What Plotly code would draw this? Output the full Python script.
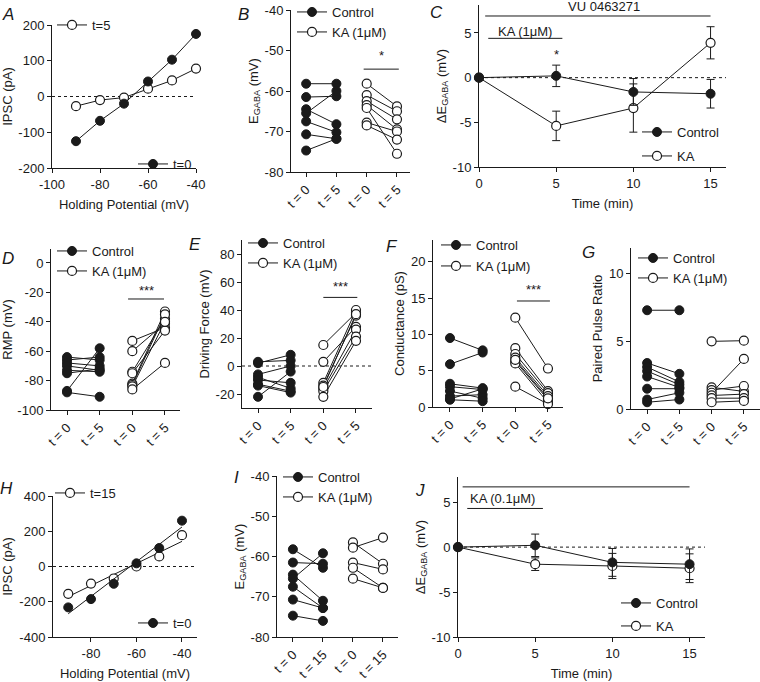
import plotly.graph_objects as go
import numpy as np

W, H = 760, 682
FONT = "Liberation Sans, Arial, Helvetica, sans-serif"
INK = "#1a1a1a"

# ---------------- data ----------------
A_volt = [-90, -80, -70, -60, -50, -40]
A_t0 = [-125, -68, -20, 42, 103, 175]
A_t5 = [-27, -10, -3, 22, 45, 78]

B_ctrl_t0 = [-58.2, -61.5, -64.5, -65.5, -67.5, -70.7, -74.7]
B_ctrl_t5 = [-58.2, -61.3, -68.2, -60.0, -70.2, -71.8, -71.8]
B_ka_t0 = [-58.2, -61.0, -62.5, -63.5, -64.2, -67.8, -68.5]
B_ka_t5 = [-63.8, -65.0, -67.0, -69.5, -75.5, -70.0, -72.0]

C_time = [0, 5, 10, 15]
C_ctrl = [0, 0.2, -1.6, -1.8]
C_ctrl_err = [0, 1.2, 1.5, 1.6]
C_ka = [0, -5.4, -3.4, 3.9]
C_ka_err = [0, 1.65, 2.7, 1.8]

D_ctrl_t0 = [-64, -66, -68, -70, -73, -75, -87, -88]
D_ctrl_t5 = [-66, -64, -70, -73, -74, -72, -58, -91]
D_ka_t0 = [-53, -60, -74, -75, -82, -83, -84, -86]
D_ka_t5 = [-44, -41, -38, -46, -33, -35, -40, -68]

E_ctrl_t0 = [2, 3, -6, -8, -10, -14, -22, -13]
E_ctrl_t5 = [8, 4, 0, -16, -12, -19, -4, -18]
E_ka_t0 = [15, 3, -12, -14, -16, -18, -22, -15]
E_ka_t5 = [38, 28, 40, 36, 26, 21, 18, 37]

F_ctrl_t0 = [9.5, 5.9, 3.2, 2.8, 2.2, 1.5, 1.1, 1.0]
F_ctrl_t5 = [7.8, 7.5, 2.6, 2.4, 1.2, 1.7, 2.5, 0.8]
F_ka_t0 = [12.3, 8.1, 7.3, 6.8, 6.3, 6.0, 2.8, 6.5]
F_ka_t5 = [5.3, 2.2, 1.9, 1.5, 1.0, 0.6, 0.4, 1.2]

G_ctrl_t0 = [7.3, 3.4, 3.1, 2.8, 2.4, 1.5, 0.7, 0.5]
G_ctrl_t5 = [7.3, 2.6, 2.0, 1.8, 1.6, 1.5, 1.2, 0.7]
G_ka_t0 = [5.0, 1.6, 1.4, 1.2, 1.0, 0.8, 0.5]
G_ka_t5 = [5.05, 1.3, 1.7, 3.7, 1.1, 0.8, 0.6]

H_volt = [-90, -80, -70, -60, -50, -40]
H_t0 = [-232, -185, -98, 18, 105, 260]
H_t15 = [-155, -97, -68, 0, 57, 178]

I_ctrl_t0 = [-58.2, -61.5, -64.5, -65.5, -67.5, -70.7, -74.7]
I_ctrl_t15 = [-62.8, -61.8, -71.0, -59.2, -72.8, -72.8, -76.0]
I_ka_t0 = [-56.5, -57.8, -61.5, -62.8, -65.5]
I_ka_t15 = [-61.8, -55.3, -63.2, -67.8, -67.8]

J_time = [0, 5, 10, 15]
J_ctrl = [0, 0.2, -1.7, -1.9]
J_ctrl_err = [0, 1.25, 1.55, 1.7]
J_ka = [0, -1.9, -2.1, -2.35]
J_ka_err = [0, 0.7, 1.4, 1.6]

cat_ticks5 = ["t = 0", "t = 5", "t = 0", "t = 5"]
cat_ticks15 = ["t = 0", "t = 15", "t = 0", "t = 15"]

# ---------------- helpers ----------------
def px_x(l, r):
    return [l / W, r / W]

def px_y(t, b):
    return [1 - b / H, 1 - t / H]

def lab(vals):
    return [("-" + f"{abs(v):g}") if v < 0 else f"{v:g}" for v in vals]

FILLED = dict(symbol="circle", size=9, color=INK, line=dict(color=INK, width=1))
OPEN = dict(symbol="circle", size=9, color="white", line=dict(color=INK, width=1.2))
LINE = dict(color=INK, width=1)

fig = go.Figure()
layout = dict(
    width=W, height=H, margin=dict(l=0, r=0, t=0, b=0, autoexpand=False),
    paper_bgcolor="white", plot_bgcolor="white",
    font=dict(family=FONT, size=12, color=INK),
    showlegend=True, shapes=[], annotations=[],
)

def axis_common(**kw):
    d = dict(showline=True, linecolor=INK, linewidth=1, ticks="outside", ticklen=4,
             tickwidth=1, tickcolor=INK, showgrid=False, zeroline=False, automargin=False,
             tickfont=dict(size=13, family=FONT, color=INK),
             title_font=dict(size=13, family=FONT, color=INK))
    d.update(kw)
    return d

def add_axes(i, xdom, ydom, xrange, yrange, xkw=None, ykw=None):
    xs = "xaxis" if i == 1 else f"xaxis{i}"
    ys = "yaxis" if i == 1 else f"yaxis{i}"
    xa = axis_common(domain=px_x(*xdom), range=xrange, anchor=f"y{'' if i == 1 else i}")
    ya = axis_common(domain=px_y(*ydom), range=yrange, anchor=f"x{'' if i == 1 else i}")
    if xkw: xa.update(xkw)
    if ykw: ya.update(ykw)
    for a in (xa, ya):
        if "tickvals" in a and "ticktext" not in a:
            a["tickmode"] = "array"
            a["ticktext"] = lab(a["tickvals"])
    if "title_text" in ya:
        ya["title_standoff"] = 3
    if "title_text" in xa:
        xa["title_standoff"] = 9
    layout[xs] = xa
    layout[ys] = ya

def ref(i):
    return ("x" if i == 1 else f"x{i}", "y" if i == 1 else f"y{i}")

leg_count = [0]
def new_legend(text_x_px, y_px):
    leg_count[0] += 1
    name = "legend" if leg_count[0] == 1 else f"legend{leg_count[0]}"
    layout[name] = dict(x=(text_x_px - 40) / W, y=1 - y_px / H, xanchor="left", yanchor="middle",
                        bgcolor="rgba(0,0,0,0)", borderwidth=0, font=dict(size=13, family=FONT, color=INK),
                        itemwidth=30, tracegroupgap=0)
    return name

def pairs(a, b, x0, x1):
    xs, ys = [], []
    for u, v in zip(a, b):
        xs += [x0, x1, None]
        ys += [u, v, None]
    return xs, ys

def zero_line(i):
    xr, yr = ref(i)
    layout["shapes"].append(dict(type="line", xref=f"{xr} domain", yref=yr, x0=0, x1=1, y0=0, y1=0,
                                 line=dict(color=INK, width=1, dash="dot"), layer="below"))

def hbar(i, x0, x1, y):
    xr, yr = ref(i)
    layout["shapes"].append(dict(type="line", xref=xr, yref=yr, x0=x0, x1=x1, y0=y, y1=y,
                                 line=dict(color=INK, width=1)))

def text(i, x, y, t, size=13):
    xr, yr = ref(i)
    layout["annotations"].append(dict(xref=xr, yref=yr, x=x, y=y, text=t, showarrow=False,
                                      font=dict(size=size, family=FONT, color=INK)))

def panel_letter(t, x, y):
    layout["annotations"].append(dict(xref="paper", yref="paper", x=x / W, y=1 - y / H, text=f"<i>{t}</i>",
                                      showarrow=False, font=dict(size=17, family=FONT, color=INK),
                                      xanchor="center", yanchor="middle"))

def paired_panel(i, c0, c1, k0, k1, leg_x, leg_y1, leg_y2):
    xr, yr = ref(i)
    lc = new_legend(leg_x, leg_y1)
    lk = new_legend(leg_x, leg_y2)
    x, y = pairs(c0, c1, 0, 1)
    fig.add_trace(go.Scatter(x=x, y=y, mode="lines+markers", marker=FILLED, line=LINE, name="Control",
                             xaxis=xr, yaxis=yr, legend=lc, cliponaxis=False))
    x, y = pairs(k0, k1, 2, 3)
    fig.add_trace(go.Scatter(x=x, y=y, mode="lines+markers", marker=OPEN, line=LINE, name="KA (1μM)",
                             xaxis=xr, yaxis=yr, legend=lk, cliponaxis=False))

def cat_x(ticks, rng):
    return dict(range=rng, tickmode="array", tickvals=[0, 1, 2, 3], ticktext=ticks, tickangle=-45)

# ---------------- Panel A ----------------
add_axes(1, (52, 196), (25, 168), [-100, -40], [-200, 200],
         dict(tickvals=[-100, -80, -60, -40], title_text="Holding Potential (mV)"),
         dict(tickvals=[-200, -100, 0, 100, 200], title_text="IPSC (pA)"))
zero_line(1)
la5 = new_legend(92, 25)
la0 = new_legend(173, 164)
fig.add_trace(go.Scatter(x=A_volt, y=A_t5, mode="lines+markers", marker=OPEN, line=LINE, name="t=5",
                         xaxis="x", yaxis="y", legend=la5, cliponaxis=False))
fig.add_trace(go.Scatter(x=A_volt, y=A_t0, mode="lines+markers", marker=FILLED, line=LINE, name="t=0",
                         xaxis="x", yaxis="y", legend=la0, cliponaxis=False))

# ---------------- Panel B ----------------
add_axes(2, (291, 410), (10, 172), None, [-80, -40],
         cat_x(cat_ticks5, [-0.5, 3.43]),
         dict(tickvals=[-80, -70, -60, -50, -40], title_text="E<sub>GABA</sub> (mV)"))
paired_panel(2, B_ctrl_t0, B_ctrl_t5, B_ka_t0, B_ka_t5, 332, 12, 32)
hbar(2, 1.9, 3.06, -54.6)
text(2, 2.5, -51.3, "*")

# ---------------- Panel C ----------------
add_axes(3, (479, 726), (5, 167), [0, 16], [-10, 8.13],
         dict(tickvals=[0, 5, 10, 15], title_text="Time (min)"),
         dict(tickvals=[-10, -5, 0, 5], title_text="ΔE<sub>GABA</sub> (mV)"))
zero_line(3)
lck = new_legend(677, 156)
lcc = new_legend(677, 132)
fig.add_trace(go.Scatter(x=C_time, y=C_ka, mode="lines+markers", marker=OPEN, line=LINE, name="KA",
                         error_y=dict(type="data", array=C_ka_err, color=INK, thickness=1, width=4),
                         xaxis="x3", yaxis="y3", legend=lck, cliponaxis=False))
fig.add_trace(go.Scatter(x=C_time, y=C_ctrl, mode="lines+markers", marker=FILLED, line=LINE, name="Control",
                         error_y=dict(type="data", array=C_ctrl_err, color=INK, thickness=1, width=4),
                         xaxis="x3", yaxis="y3", legend=lcc, cliponaxis=False))
hbar(3, 0.4, 15, 6.9)
text(3, 8.1, 8.0, "VU 0463271")
hbar(3, 0.6, 5.4, 4.4)
text(3, 3.0, 5.2, "KA (1μM)")
text(3, 5, 2.6, "*")

# ---------------- Panel D ----------------
add_axes(4, (51, 180), (249, 410), None, [-100, 9.5],
         cat_x(cat_ticks5, [-0.49, 3.46]),
         dict(tickvals=[-100, -80, -60, -40, -20, 0], title_text="RMP (mV)"))
paired_panel(4, D_ctrl_t0, D_ctrl_t5, D_ka_t0, D_ka_t5, 92, 251, 271)
hbar(4, 1.87, 2.97, -24.5)
text(4, 2.42, -18.5, "***")

# ---------------- Panel E ----------------
add_axes(5, (242, 372), (240, 408), None, [-30, 90],
         cat_x(cat_ticks5, [-0.49, 3.49]),
         dict(tickvals=[-20, 0, 20, 40, 60, 80], title_text="Driving Force (mV)"))
zero_line(5)
paired_panel(5, E_ctrl_t0, E_ctrl_t5, E_ka_t0, E_ka_t5, 283, 243, 263)
hbar(5, 2.0, 3.04, 49)
text(5, 2.52, 57, "***")

# ---------------- Panel F ----------------
add_axes(6, (433, 563), (240, 407), None, [0, 23],
         cat_x(cat_ticks5, [-0.52, 3.46]),
         dict(tickvals=[0, 5, 10, 15, 20], title_text="Conductance (pS)"))
paired_panel(6, F_ctrl_t0, F_ctrl_t5, F_ka_t0, F_ka_t5, 476, 245, 266)
hbar(6, 2.05, 3.06, 14.6)
text(6, 2.55, 16.2, "***")

# ---------------- Panel G ----------------
add_axes(7, (631, 760), (248, 409), None, [0, 11.9],
         cat_x(cat_ticks5, [-0.5, 3.5]),
         dict(tickvals=[0, 5, 10], title_text="Paired Pulse Ratio"))
paired_panel(7, G_ctrl_t0, G_ctrl_t5, G_ka_t0, G_ka_t5, 673, 258, 278)

# ---------------- Panel H ----------------
add_axes(8, (53, 197), (496, 637), [-96.7, -33.4], [-400, 400],
         dict(tickvals=[-80, -60, -40], title_text="Holding Potential (mV)"),
         dict(tickvals=[-400, -200, 0, 200, 400], title_text="IPSC (pA)"))
zero_line(8)
lh15 = new_legend(90, 493)
lh0 = new_legend(173, 623)
xfit = np.array([min(H_volt), max(H_volt)], dtype=float)
for ys_, mk, nm, lg in [(H_t15, OPEN, "t=15", lh15), (H_t0, FILLED, "t=0", lh0)]:
    k, b = np.polyfit(H_volt, ys_, 1)
    fig.add_trace(go.Scatter(x=xfit, y=k * xfit + b, mode="lines", line=LINE, showlegend=False,
                             xaxis="x8", yaxis="y8", cliponaxis=False))
    fig.add_trace(go.Scatter(x=H_volt, y=ys_, mode="markers", marker=mk, showlegend=False,
                             xaxis="x8", yaxis="y8", cliponaxis=False))
    fig.add_trace(go.Scatter(x=[None], y=[None], mode="lines+markers", marker=mk, line=LINE, name=nm,
                             xaxis="x8", yaxis="y8", legend=lg))

# ---------------- Panel I ----------------
add_axes(9, (277, 398), (476, 637), None, [-80, -40],
         cat_x(cat_ticks15, [-0.53, 3.5]),
         dict(tickvals=[-80, -70, -60, -50, -40], title_text="E<sub>GABA</sub> (mV)"))
paired_panel(9, I_ctrl_t0, I_ctrl_t15, I_ka_t0, I_ka_t15, 318, 477, 497)

# ---------------- Panel J ----------------
add_axes(10, (458, 705), (477, 637), [0, 16], [-10, 7.8],
         dict(tickvals=[0, 5, 10, 15], title_text="Time (min)"),
         dict(tickvals=[-10, -5, 0, 5], title_text="ΔE<sub>GABA</sub> (mV)"))
zero_line(10)
ljk = new_legend(656, 626)
ljc = new_legend(656, 603)
fig.add_trace(go.Scatter(x=J_time, y=J_ka, mode="lines+markers", marker=OPEN, line=LINE, name="KA",
                         error_y=dict(type="data", array=J_ka_err, color=INK, thickness=1, width=4),
                         xaxis="x10", yaxis="y10", legend=ljk, cliponaxis=False))
fig.add_trace(go.Scatter(x=J_time, y=J_ctrl, mode="lines+markers", marker=FILLED, line=LINE, name="Control",
                         error_y=dict(type="data", array=J_ctrl_err, color=INK, thickness=1, width=4),
                         xaxis="x10", yaxis="y10", legend=ljc, cliponaxis=False))
hbar(10, 0.3, 15, 6.7)
text(10, 8.1, 7.9, "VU 0463271")
hbar(10, 0.6, 5.5, 4.3)
text(10, 2.9, 5.4, "KA (0.1μM)")

# ---------------- panel letters ----------------
for t, x, y in [("A", 8, 15), ("B", 243, 15), ("C", 437, 13), ("D", 8, 258), ("E", 195, 244),
                ("F", 392, 246), ("G", 588, 252), ("H", 6, 488), ("I", 236, 477), ("J", 420, 490)]:
    panel_letter(t, x, y)

fig.update_layout(**layout)
fig.write_html("out.html", config={"displayModeBar": False},
               post_script="document.body.style.margin='0';document.body.style.overflow='hidden';")
